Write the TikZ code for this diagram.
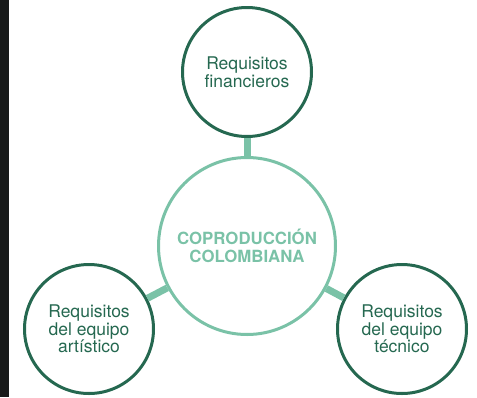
\documentclass[tikz,border=0pt]{standalone}
\usepackage{fontspec}
\setmainfont{TeX Gyre Heros}
\usepackage{tikz}
\definecolor{darkgreen}{RGB}{37,104,80}
\definecolor{lightgreen}{RGB}{122,194,167}
\definecolor{strip}{RGB}{24,26,26}

\begin{document}
\begin{tikzpicture}[x=1pt,y=-1pt,
    req/.style={circle,draw=darkgreen,line width=3pt,minimum size=129pt,inner sep=0pt,
      text=darkgreen,align=center,font=\fontsize{17.5}{16}\selectfont},
    hub/.style={circle,draw=lightgreen,line width=3pt,minimum size=177pt,inner sep=0pt,
      text=lightgreen,align=center,font=\fontsize{16.8}{18}\selectfont\bfseries},
    link/.style={draw=lightgreen,line width=7pt}]
  \useasboundingbox (0,0) rectangle (477,397);
  \fill[strip] (0,0) rectangle (9,397);

  \node[hub] (hub) at (247,246) {COPRODUCCIÓN\\COLOMBIANA};
  \node[req] (fin) at (247,72) {Requisitos\\financieros};
  \node[req] (art) at (89,329) {Requisitos\\del equipo\\artístico};
  \node[req] (tec) at (402,329) {Requisitos\\del equipo\\técnico};

  \draw[link] (hub) -- (fin);
  \draw[link] (hub) -- (art);
  \draw[link] (hub) -- (tec);
\end{tikzpicture}
\end{document}
